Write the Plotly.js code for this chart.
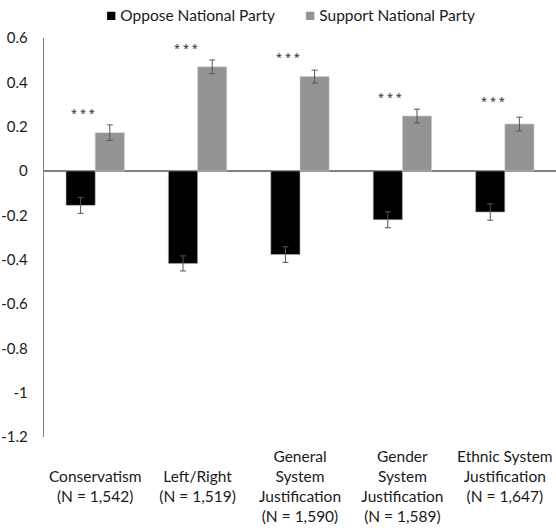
<!DOCTYPE html>
<html>
<head>
<meta charset="utf-8">
<script src="https://cdn.plot.ly/plotly-3.0.1.min.js"></script>
<style>html,body{margin:0;padding:0;background:#fff;}#chart{width:556px;height:531px;}</style>
</head>
<body>
<div id="chart"></div>
<script>
var categories = ["Conservatism", "Left/Right", "General System Justification", "Gender System Justification", "Ethnic System Justification"];
var tickLabels = [
  "<br>Conservatism<br>(N = 1,542)",
  "<br>Left/Right<br>(N = 1,519)",
  "General<br>System<br>Justification<br>(N = 1,590)",
  "Gender<br>System<br>Justification<br>(N = 1,589)",
  "Ethnic System<br>Justification<br>(N = 1,647)"
];
var seriesNames = ["Oppose National Party", "Support National Party"];
var seriesColors = ["#000000", "#939393"];
var opposeValues = [-0.155, -0.417, -0.377, -0.220, -0.185];
var opposeErrors = [0.036, 0.034, 0.035, 0.036, 0.037];
var supportValues = [0.173, 0.470, 0.426, 0.248, 0.212];
var supportErrors = [0.035, 0.031, 0.029, 0.031, 0.031];
var starLabels = ["***", "***", "***", "***", "***"];
var starHeights = [0.265, 0.558, 0.518, 0.337, 0.319];

var font = "Lato, Noto Sans, sans-serif";

var traces = [
  {
    type: "bar", name: seriesNames[0], x: categories, y: opposeValues, showlegend: false,
    marker: {color: seriesColors[0], line: {color: "#b0b0b0", width: 0.6}},
    error_y: {type: "data", array: opposeErrors, visible: true, color: "#555555", thickness: 1, width: 3}
  },
  {
    type: "bar", name: seriesNames[1], x: categories, y: supportValues, showlegend: false,
    marker: {color: seriesColors[1], line: {color: "#d0d0d0", width: 0.6}},
    error_y: {type: "data", array: supportErrors, visible: true, color: "#555555", thickness: 1, width: 3}
  }
];

var annotations = categories.map(function (c, i) {
  return {
    x: c, y: starHeights[i], xref: "x", yref: "y", text: starLabels[i].split("").join(" "),
    showarrow: false, xshift: -12, yanchor: "middle",
    font: {family: "Noto Sans, sans-serif", size: 11, color: "#333333"}
  };
});

// legend entries (square marker + label)
var legendX = [104, 303];
seriesNames.forEach(function (n, i) {
  annotations.push({
    xref: "paper", yref: "paper", x: (legendX[i] - 44) / 512, y: (437 - 15) / 399 - (437 - 38) / 399 + 1,
    xanchor: "left", yanchor: "middle", showarrow: false,
    text: '<span style="color:' + seriesColors[i] + ';font-size:17px">■</span> ' + n,
    font: {family: font, size: 15.5, color: "#1a1a1a"}
  });
});

var layout = {
  width: 556, height: 531,
  margin: {l: 44, r: 0, t: 38, b: 94},
  paper_bgcolor: "#ffffff", plot_bgcolor: "#ffffff",
  barmode: "group", bargap: 0.43, bargroupgap: 0,
  font: {family: font, size: 13, color: "#1a1a1a"},
  showlegend: false,
  xaxis: {
    type: "category", tickmode: "array", tickvals: categories, ticktext: tickLabels,
    showline: false, showgrid: false, zeroline: false, ticks: "", ticklabelstandoff: 8,
    tickfont: {family: font, size: 15.5, color: "#1a1a1a"}, automargin: false
  },
  yaxis: {
    range: [-1.2, 0.6], tickvals: [0.6, 0.4, 0.2, 0, -0.2, -0.4, -0.6, -0.8, -1, -1.2],
    ticktext: ["0.6", "0.4", "0.2", "0", "-0.2", "-0.4", "-0.6", "-0.8", "-1", "-1.2"],
    showline: true, linecolor: "#808080", linewidth: 1.2, showgrid: false,
    zeroline: true, zerolinecolor: "#808080", zerolinewidth: 1.5,
    ticks: "", ticklabelstandoff: 12,
    tickfont: {family: font, size: 15, color: "#1a1a1a"}, automargin: false
  },
  annotations: annotations
};

Plotly.newPlot("chart", traces, layout, {displayModeBar: false, staticPlot: true});
</script>
</body>
</html>
